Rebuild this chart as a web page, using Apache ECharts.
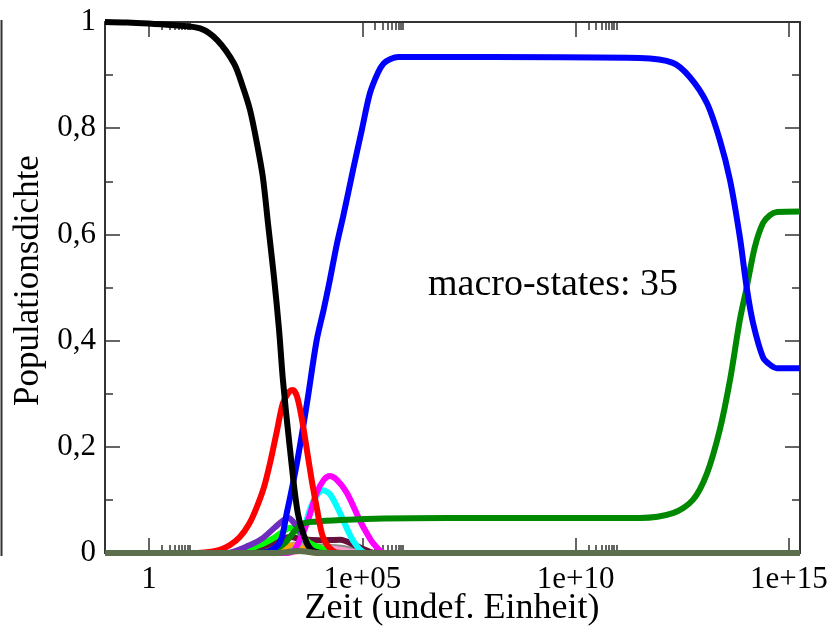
<!DOCTYPE html>
<html>
<head>
<meta charset="utf-8">
<script src="https://cdn.jsdelivr.net/npm/echarts@6/dist/echarts.min.js"></script>
<style>
html,body{margin:0;padding:0;background:#fff;}
#chart{width:827px;height:627px;}
</style>
</head>
<body>
<div id="chart"></div>
<script>
// ---- axis ranges (log10 of time) ----
const xMinLog = -1.03;
const xMaxLog = 15.26;

// ---- tick labels ----
const xTickExponents = [0, 5, 10, 15];
const xTickLabels = ['1', '1e+05', '1e+10', '1e+15'];
const xMinorFactors = [2, 3, 4, 5, 6, 7, 8, 9];
const yTickValues = [0, 0.2, 0.4, 0.6, 0.8, 1];
const yTickLabels = ['0', '0,2', '0,4', '0,6', '0,8', '1'];
const xTitle = 'Zeit (undef. Einheit)';
const yTitle = 'Populationsdichte';
const annotation = 'macro-states: 35';

// ---- series data: log10(time) and population density ----
const blackT = [-1.03, -0.5, 0, 0.6, 1.2, 1.6, 2.0, 2.2, 2.37, 2.53, 2.67, 2.79, 2.93, 3.05, 3.14, 3.3, 3.49, 3.7, 3.85, 4.2, 15.26];
const blackV = [1.0, 0.999, 0.997, 0.994, 0.988, 0.966, 0.921, 0.878, 0.834, 0.772, 0.708, 0.621, 0.52, 0.42, 0.326, 0.2, 0.075, 0.019, 0.004, 0, 0];

const redT = [-1.03, 0.9, 1.3, 1.66, 1.9, 2.13, 2.35, 2.53, 2.7, 2.84, 3.0, 3.14, 3.28, 3.37, 3.47, 3.59, 3.73, 3.83, 3.93, 4.08, 4.29, 4.5, 15.26];
const redV = [0, 0, 0.001, 0.006, 0.015, 0.03, 0.055, 0.087, 0.125, 0.17, 0.23, 0.282, 0.303, 0.307, 0.295, 0.25, 0.18, 0.13, 0.087, 0.03, 0.005, 0, 0];

const blueT = [-1.03, 2.5, 2.8, 3.07, 3.23, 3.47, 3.7, 3.93, 4.1, 4.24, 4.4, 4.55, 4.78, 4.99, 5.18, 5.37, 5.5, 5.65, 5.85, 6.05, 8, 11.5, 12.28, 12.68, 13.08, 13.38, 13.62, 13.85, 14.01, 14.16, 14.39, 14.55, 14.72, 15.26];
const blueV = [0, 0, 0.003, 0.02, 0.075, 0.17, 0.28, 0.40, 0.46, 0.514, 0.58, 0.633, 0.72, 0.797, 0.866, 0.905, 0.922, 0.930, 0.934, 0.934, 0.934, 0.932, 0.923, 0.896, 0.847, 0.778, 0.702, 0.595, 0.5, 0.433, 0.369, 0.355, 0.348, 0.348];

const greenT = [-1.03, 2.5, 2.9, 3.2, 3.4, 3.6, 3.9, 4.5, 5.5, 7, 11.5, 12.28, 12.75, 13.08, 13.38, 13.62, 13.85, 14.01, 14.2, 14.39, 14.55, 14.72, 15.26];
const greenV = [0, 0, 0.005, 0.02, 0.04, 0.055, 0.059, 0.062, 0.065, 0.066, 0.066, 0.075, 0.10, 0.15, 0.232, 0.326, 0.439, 0.50, 0.576, 0.621, 0.636, 0.642, 0.643];

const magentaT = [-1.03, 3.2, 3.4, 3.54, 3.73, 3.93, 4.1, 4.24, 4.4, 4.64, 4.94, 5.1, 5.25, 5.53, 15.26];
const magentaV = [0, 0, 0.005, 0.025, 0.062, 0.113, 0.138, 0.145, 0.138, 0.113, 0.062, 0.038, 0.019, 0, 0];

const cyanT = [-1.03, 3.2, 3.45, 3.61, 3.77, 3.93, 4.08, 4.25, 4.48, 4.78, 5.1, 15.26];
const cyanV = [0, 0, 0.01, 0.038, 0.081, 0.108, 0.118, 0.11, 0.075, 0.024, 0, 0];

const purpleT = [-1.03, 1.8, 2.37, 2.67, 2.95, 3.26, 3.54, 3.77, 4.0, 15.26];
const purpleV = [0, 0, 0.015, 0.028, 0.048, 0.066, 0.04, 0.01, 0, 0];

const limeT = [-1.03, 2.0, 2.6, 2.9, 3.1, 3.3, 3.5, 3.75, 4.08, 4.4, 15.26];
const limeV = [0, 0, 0.015, 0.027, 0.038, 0.047, 0.04, 0.02, 0.008, 0, 0];

const maroonT = [-1.03, 2.0, 2.6, 3.0, 3.3, 3.6, 4.0, 4.48, 4.9, 5.3, 15.26];
const maroonV = [0, 0, 0.01, 0.022, 0.03, 0.026, 0.024, 0.025, 0.012, 0, 0];

const orangeT = [-1.03, 2.5, 2.9, 3.3, 3.6, 3.9, 15.26];
const orangeV = [0, 0, 0.006, 0.013, 0.008, 0, 0];

const tanT = [-1.03, 2.6, 3.1, 3.5, 3.9, 4.4, 15.26];
const tanV = [0, 0, 0.01, 0.017, 0.012, 0, 0];

const pinkT = [-1.03, 3.2, 3.7, 4.1, 4.5, 5.0, 15.26];
const pinkV = [0, 0, 0.006, 0.01, 0.006, 0, 0];

const greyT = [-1.03, 2.8, 3.4, 3.9, 4.5, 5.2, 15.26];
const greyV = [0, 0, 0.008, 0.012, 0.01, 0, 0];

const oliveT = [-1.03, 3.0, 3.5, 4.0, 15.26];
const oliveV = [0, 0, 0.004, 0, 0];

// drawing order: first drawn at the bottom
const seriesDefs = [
  {name: 'grey', t: greyT, v: greyV, color: '#8c8c8c'},
  {name: 'pink', t: pinkT, v: pinkV, color: '#ff99cc'},
  {name: 'tan', t: tanT, v: tanV, color: '#c8a078'},
  {name: 'orange', t: orangeT, v: orangeV, color: '#ffa500'},
  {name: 'maroon', t: maroonT, v: maroonV, color: '#67103c'},
  {name: 'lime', t: limeT, v: limeV, color: '#00ff00'},
  {name: 'purple', t: purpleT, v: purpleV, color: '#6f2dbd'},
  {name: 'cyan', t: cyanT, v: cyanV, color: '#00ffff'},
  {name: 'magenta', t: magentaT, v: magentaV, color: '#ff00ff'},
  {name: 'green', t: greenT, v: greenV, color: '#008800'},
  {name: 'blue', t: blueT, v: blueV, color: '#0000ff'},
  {name: 'red', t: redT, v: redV, color: '#ff0000'},
  {name: 'black', t: blackT, v: blackV, color: '#000000'},
  {name: 'olive', t: oliveT, v: oliveV, color: '#5c6e4c'}
];

const xMinorTicks = [];
xTickExponents.forEach(d => xMinorFactors.forEach(k => {
  const p = d + Math.log10(k);
  if (p > xMinLog && p < xMaxLog) xMinorTicks.push(p);
}));

const FONT = 'Liberation Serif';
const AX = '#333333';
const GRID = {left: 105, right: 27, top: 22, bottom: 74, containLabel: false, outerBoundsMode: 'none'};

function xAxisBase(grid, pos, ticks, len, line, labels) {
  return {
    gridIndex: grid, type: 'value', position: pos, min: xMinLog, max: xMaxLog,
    axisLine: {show: line, onZero: false, lineStyle: {color: AX, width: 2}},
    splitLine: {show: false},
    axisTick: {show: true, inside: true, length: len, customValues: ticks, lineStyle: {color: AX, width: 1.5}},
    axisLabel: labels ? {
      show: true, customValues: xTickExponents, margin: 11,
      fontFamily: FONT, fontSize: 31, color: '#000',
      formatter: v => xTickLabels[xTickExponents.indexOf(Math.round(v))]
    } : {show: false}
  };
}

function yAxisBase(grid, pos, show, labels) {
  return {
    gridIndex: grid, type: 'value', position: pos, min: 0, max: 1, interval: 0.2, show: show,
    axisLine: {show: true, onZero: false, lineStyle: {color: AX, width: 2}},
    splitLine: {show: false},
    axisTick: {show: true, inside: true, length: 15, lineStyle: {color: AX, width: 1.5}},
    minorTick: {show: true, splitNumber: 2, length: 8, lineStyle: {color: AX, width: 1.5}},
    axisLabel: labels ? {
      show: true, margin: 9, fontFamily: FONT, fontSize: 31, color: '#000',
      formatter: v => yTickLabels[yTickValues.findIndex(y => Math.abs(y - v) < 1e-6)]
    } : {show: false}
  };
}

const xAxes = [
  xAxisBase(0, 'bottom', xTickExponents, 15, true, true),
  xAxisBase(0, 'top', xTickExponents, 15, true, false),
  xAxisBase(1, 'bottom', xMinorTicks, 8, false, false),
  xAxisBase(1, 'top', xMinorTicks, 8, false, false)
];

const yAxes = [
  Object.assign(yAxisBase(0, 'left', true, true), {
    name: yTitle, nameLocation: 'middle', nameGap: 58,
    nameTextStyle: {fontFamily: FONT, fontSize: 35, color: '#000', padding: [0, 0, 0, 14]}
  }),
  yAxisBase(0, 'right', true, false),
  yAxisBase(1, 'left', false, false)
];

const series = seriesDefs.map(s => ({
  name: s.name, type: 'line', xAxisIndex: 0, yAxisIndex: 0,
  data: s.t.map((t, i) => [t, s.v[i]]),
  showSymbol: false, smooth: 0.3, clip: false,
  lineStyle: {color: s.color, width: 6},
  itemStyle: {color: s.color},
  emphasis: {disabled: true},
  animation: false
}));

const chart = echarts.init(document.getElementById('chart'), null, {renderer: 'canvas'});
chart.setOption({
  backgroundColor: '#ffffff',
  animation: false,
  grid: [Object.assign({}, GRID), Object.assign({}, GRID)],
  xAxis: xAxes,
  yAxis: yAxes,
  series: series,
  graphic: [
    {type: 'line', shape: {x1: 1.5, y1: 20, x2: 1.5, y2: 556}, style: {stroke: AX, lineWidth: 2}, silent: true},
    {type: 'text', x: 452, y: 609, style: {text: xTitle, fontFamily: FONT, fontSize: 36, fill: '#000', textAlign: 'center', textVerticalAlign: 'middle'}, silent: true},
    {type: 'text', left: 428, top: 266, style: {text: annotation, fontFamily: FONT, fontSize: 38, fill: '#000'}, silent: true}
  ]
});
</script>
</body>
</html>
